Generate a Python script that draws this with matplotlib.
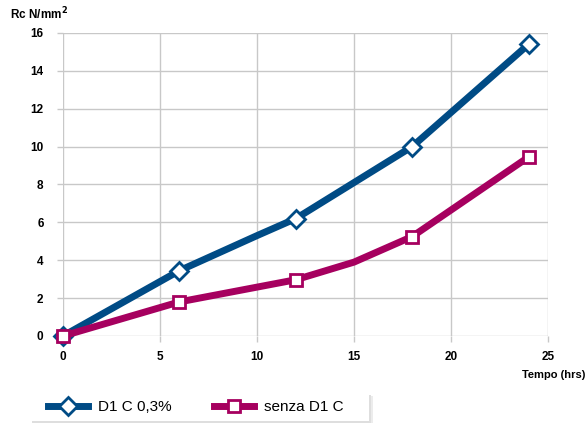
import matplotlib.pyplot as plt
from matplotlib.patches import Rectangle

plt.rcParams['font.family'] = ['Liberation Sans', 'DejaVu Sans']

# dati
tempo_d1 = [0, 6, 10, 12, 18, 24]
rc_d1 = [0, 3.45, 5.3, 6.2, 10.0, 15.4]
marker_d1 = [0, 1, 3, 4, 5]

tempo_senza = [0, 6, 12, 15, 18, 24]
rc_senza = [0, 1.8, 2.97, 3.9, 5.25, 9.45]
marker_senza = [0, 1, 2, 4, 5]

x_ticks = [0, 5, 10, 15, 20, 25]
y_ticks = [0, 2, 4, 6, 8, 10, 12, 14, 16]

blu = '#004b85'
magenta = '#a6005f'
grigio = '#c8c8c8'

W, H = 587, 423
fig = plt.figure(figsize=(W / 100, H / 100), dpi=100)
ax = fig.add_axes([0.1073, 0.2057, 0.8262, 0.7163])

ax.plot(tempo_d1, rc_d1, color=blu, lw=5, marker='D', ms=9, mfc='white',
        mec=blu, mew=2, markevery=marker_d1, label='D1 C 0,3%', zorder=3,
        clip_on=False)
ax.plot(tempo_senza, rc_senza, color=magenta, lw=5, marker='s', ms=9, mfc='white',
        mec=magenta, mew=2, markevery=marker_senza, label='senza D1 C', zorder=3,
        clip_on=False)

ax.set_xlim(0, 25)
ax.set_ylim(0, 16)
ax.set_xticks(x_ticks)
ax.set_yticks(y_ticks)
ax.grid(True, color=grigio, lw=1)
ax.set_axisbelow(True)
for s in ax.spines.values():
    s.set_visible(False)
ax.tick_params(axis='both', color=grigio, length=4, width=1, labelsize=8.5)
ax.tick_params(axis='y', pad=10)
ax.tick_params(axis='x', pad=7)
for lab in ax.get_xticklabels() + ax.get_yticklabels():
    lab.set_fontweight('bold')

fig.text(0.017, 0.968, 'Rc N/mm$^{\\mathbf{2}}$', fontsize=8.5, fontweight='bold',
         va='center', ha='left')
fig.text(0.997, 0.113, 'Tempo (hrs)', fontsize=8, fontweight='bold',
         ha='right', va='center')

# riquadro della legenda con ombra leggera
for dx, dy, c in [(4, -3, '#ececec'), (2, -2, '#dedede')]:
    fig.add_artist(Rectangle(((30 + dx) / W, (2 + dy) / H), 339 / W, 28 / H,
                             transform=fig.transFigure, facecolor=c,
                             edgecolor='none', zorder=0))
fig.add_artist(Rectangle((30 / W, 2 / H), 339 / W, 28 / H,
                         transform=fig.transFigure, facecolor='white',
                         edgecolor='none', zorder=1))

leg = fig.legend(loc='center left', bbox_to_anchor=(48 / W, 16 / H), ncol=2,
                 fontsize=11, frameon=False,
                 handlelength=2.62, handletextpad=0.65, columnspacing=2.75,
                 borderpad=0, borderaxespad=0)
leg.set_zorder(2)

fig.savefig('out.png', dpi=100)
